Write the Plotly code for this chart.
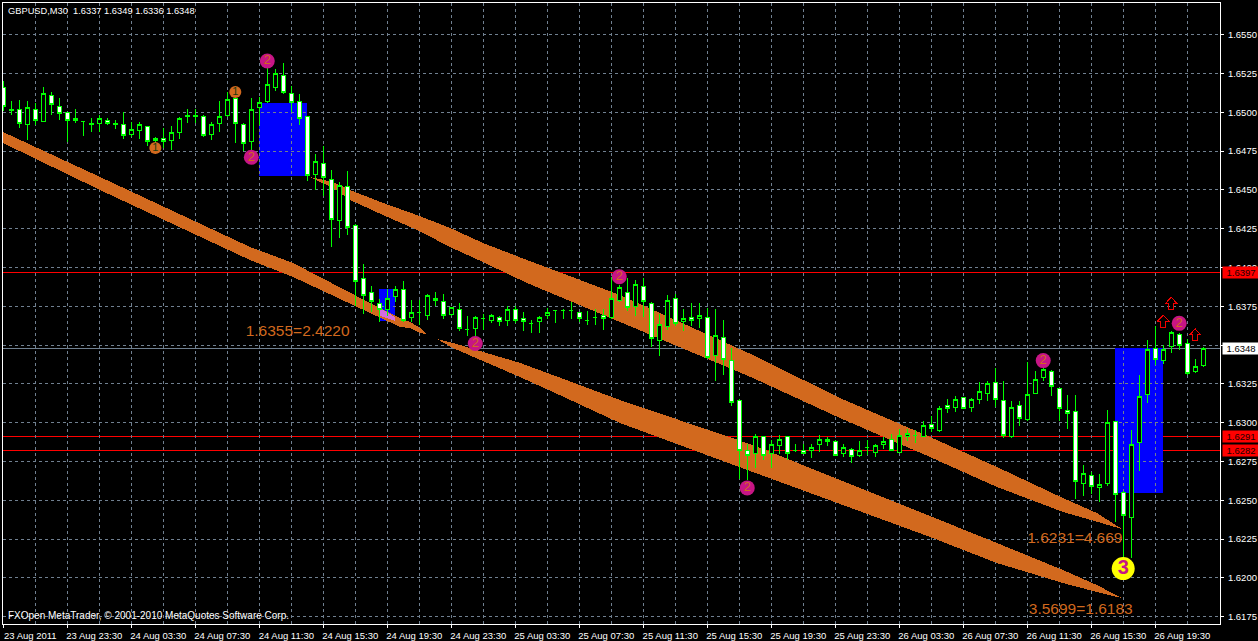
import plotly.graph_objects as go

opens = [1.6516,1.6502,1.6502,1.6492,1.6502,1.6494,1.6511,1.6504,1.6500,1.6496,1.6494,1.6493,1.6493,1.6495,1.6493,1.6492,1.6486,1.6488,1.6491,1.6483,
1.6483,1.6482,1.6487,1.6497,1.6497,1.6497,1.6486,1.6493,1.6498,1.6509,1.6492,1.6481,1.6503,1.6507,1.6516,1.6524,1.6512,1.6507,1.6497,1.6460,
1.6467,1.6457,1.6430,1.6452,1.6427,1.6393,1.6384,1.6377,1.6373,1.6381,1.6386,1.6368,1.6371,1.6369,1.6380,1.6378,1.6370,1.6373,1.6360,1.6361,
1.6367,1.6366,1.6368,1.6366,1.6373,1.6367,1.6364,1.6365,1.6369,1.6372,1.6372,1.6372,1.6371,1.6366,1.6368,1.6369,1.6368,1.6379,1.6384,1.6375,
1.6388,1.6377,1.6353,1.6362,1.6380,1.6365,1.6368,1.6367,1.6368,1.6343,1.6355,1.6340,1.6314,1.6282,1.6280,1.6291,1.6280,1.6285,1.6291,1.6282,
1.6282,1.6282,1.6286,1.6288,1.6288,1.6280,1.6283,1.6279,1.6284,1.6281,1.6286,1.6289,1.6281,1.6291,1.6292,1.6291,1.6299,1.6295,1.6311,1.6310,
1.6316,1.6310,1.6315,1.6319,1.6326,1.6314,1.6291,1.6311,1.6302,1.6319,1.6329,1.6333,1.6322,1.6308,1.6307,1.6261,1.6266,1.6258,1.6261,1.6301,
1.6255,1.6239,1.6287,1.6318,1.6348,1.6340,1.6349,1.6357,1.6351,1.6333,1.6337]
highs = [1.6520,1.6507,1.6508,1.6507,1.6506,1.6516,1.6513,1.6509,1.6500,1.6502,1.6494,1.6496,1.6498,1.6496,1.6495,1.6500,1.6494,1.6494,1.6491,1.6484,
1.6490,1.6491,1.6497,1.6502,1.6502,1.6498,1.6494,1.6507,1.6513,1.6514,1.6493,1.6509,1.6510,1.6530,1.6528,1.6532,1.6517,1.6512,1.6497,1.6473,
1.6478,1.6463,1.6455,1.6462,1.6428,1.6402,1.6388,1.6380,1.6386,1.6388,1.6391,1.6379,1.6379,1.6383,1.6384,1.6383,1.6374,1.6377,1.6369,1.6369,
1.6370,1.6370,1.6369,1.6375,1.6375,1.6371,1.6366,1.6369,1.6374,1.6372,1.6373,1.6378,1.6371,1.6372,1.6373,1.6373,1.6394,1.6389,1.6393,1.6392,
1.6393,1.6378,1.6370,1.6382,1.6383,1.6373,1.6377,1.6377,1.6374,1.6373,1.6366,1.6348,1.6315,1.6286,1.6293,1.6291,1.6289,1.6292,1.6291,1.6286,
1.6286,1.6286,1.6292,1.6291,1.6289,1.6286,1.6284,1.6288,1.6289,1.6286,1.6291,1.6293,1.6296,1.6296,1.6295,1.6301,1.6304,1.6311,1.6315,1.6317,
1.6316,1.6316,1.6326,1.6327,1.6335,1.6327,1.6314,1.6314,1.6339,1.6333,1.6340,1.6334,1.6322,1.6318,1.6318,1.6273,1.6268,1.6267,1.6308,1.6301,
1.6256,1.6295,1.6331,1.6353,1.6362,1.6350,1.6359,1.6358,1.6354,1.6341,1.6349]
lows = [1.6501,1.6498,1.6490,1.6482,1.6492,1.6494,1.6498,1.6495,1.6481,1.6493,1.6485,1.6487,1.6487,1.6492,1.6489,1.6483,1.6484,1.6483,1.6478,1.6473,
1.6477,1.6476,1.6483,1.6493,1.6493,1.6484,1.6482,1.6487,1.6497,1.6480,1.6475,1.6472,1.6492,1.6506,1.6514,1.6512,1.6500,1.6492,1.6456,1.6450,
1.6446,1.6413,1.6419,1.6421,1.6375,1.6370,1.6371,1.6365,1.6369,1.6378,1.6365,1.6365,1.6363,1.6366,1.6375,1.6367,1.6369,1.6359,1.6356,1.6356,
1.6360,1.6364,1.6362,1.6362,1.6364,1.6359,1.6358,1.6358,1.6367,1.6364,1.6367,1.6367,1.6365,1.6363,1.6363,1.6360,1.6367,1.6378,1.6372,1.6369,
1.6368,1.6349,1.6343,1.6360,1.6362,1.6359,1.6362,1.6361,1.6341,1.6327,1.6331,1.6311,1.6264,1.6263,1.6271,1.6276,1.6271,1.6280,1.6276,1.6281,
1.6280,1.6277,1.6281,1.6285,1.6279,1.6278,1.6274,1.6278,1.6279,1.6278,1.6283,1.6282,1.6281,1.6288,1.6287,1.6291,1.6294,1.6294,1.6306,1.6307,
1.6309,1.6307,1.6312,1.6314,1.6310,1.6290,1.6290,1.6298,1.6301,1.6319,1.6327,1.6317,1.6301,1.6296,1.6251,1.6253,1.6254,1.6249,1.6259,1.6236,
1.6213,1.6213,1.6269,1.6313,1.6337,1.6338,1.6345,1.6347,1.6331,1.6332,1.6336]
closes = [1.6504,1.6501,1.6493,1.6503,1.6495,1.6512,1.6505,1.6499,1.6495,1.6495,1.6494,1.6492,1.6496,1.6493,1.6492,1.6485,1.6489,1.6492,1.6481,1.6482,
1.6481,1.6487,1.6496,1.6498,1.6498,1.6485,1.6492,1.6497,1.6508,1.6493,1.6480,1.6502,1.6506,1.6518,1.6525,1.6513,1.6506,1.6496,1.6459,1.6468,
1.6458,1.6431,1.6453,1.6426,1.6391,1.6382,1.6378,1.6373,1.6380,1.6386,1.6366,1.6371,1.6371,1.6382,1.6379,1.6369,1.6374,1.6361,1.6360,1.6368,
1.6367,1.6369,1.6365,1.6373,1.6366,1.6365,1.6364,1.6368,1.6371,1.6372,1.6372,1.6372,1.6367,1.6366,1.6368,1.6367,1.6380,1.6387,1.6374,1.6389,
1.6378,1.6354,1.6363,1.6379,1.6364,1.6367,1.6366,1.6369,1.6342,1.6356,1.6341,1.6313,1.6282,1.6279,1.6291,1.6279,1.6286,1.6289,1.6280,1.6282,
1.6280,1.6284,1.6289,1.6289,1.6279,1.6284,1.6278,1.6282,1.6284,1.6285,1.6288,1.6282,1.6292,1.6293,1.6292,1.6298,1.6296,1.6309,1.6309,1.6315,
1.6309,1.6315,1.6320,1.6325,1.6315,1.6292,1.6310,1.6303,1.6318,1.6328,1.6334,1.6323,1.6309,1.6306,1.6262,1.6267,1.6259,1.6260,1.6300,1.6254,
1.6240,1.6286,1.6317,1.6347,1.6341,1.6347,1.6358,1.6350,1.6332,1.6336,1.6348]
# one entry per 30-minute bar
bar_index = list(range(len(closes)))

x_tick_bars = [0,8,16,24,32,40,48,56,64,72,80,88,96,104,112,120,128,136,144]
x_tick_labels = ["23 Aug 2011","23 Aug 23:30","24 Aug 03:30","24 Aug 07:30","24 Aug 11:30","24 Aug 15:30",
                 "24 Aug 19:30","24 Aug 23:30","25 Aug 03:30","25 Aug 07:30","25 Aug 11:30","25 Aug 15:30",
                 "25 Aug 19:30","25 Aug 23:30","26 Aug 03:30","26 Aug 07:30","26 Aug 11:30","26 Aug 15:30","26 Aug 19:30"]
x_grid_bars = [4,12,20,28,36,44,52,60,68,76,84,92,100,108,116,124,132,140,148]
y_ticks = [1.6550,1.6525,1.6500,1.6475,1.6450,1.6425,1.6400,1.6375,1.6350,1.6325,1.6300,1.6275,1.6250,1.6225,1.6200,1.6175]
# the 1.6350 label is fully covered by the bid tag in the source chart
y_tick_labels = ["1.6550","1.6525","1.6500","1.6475","1.6450","1.6425","1.6400","1.6375","","1.6325","1.6300","1.6275","1.6250","1.6225","1.6200","1.6175"]

# lower-left channel
band_a_bars = [-0.04,12.09,30.84,36.21,45.84,49.59,50.84,52.09,52.84,52.09,50.84,49.59,45.84,36.21,30.84,12.09,-0.04]
band_a_prices = [1.64873,1.64583,1.64132,1.64029,1.63771,1.63675,1.63649,1.63610,1.63572,1.63578,1.63610,1.63617,1.63707,1.63939,1.64048,1.64499,1.64802]
# lower-right channel
band_b_bars = [54.2,56.2,64.59,68.71,77.09,93.71,115.84,124.2,132.46,136.71,139.84,136.71,132.46,124.2,115.84,93.71,77.09,68.71,64.59,56.2]
band_b_prices = [1.63539,1.63514,1.63385,1.63307,1.63146,1.62856,1.62399,1.62225,1.62051,1.61954,1.61870,1.61909,1.61967,1.62096,1.62264,1.62682,1.62998,1.63198,1.63294,1.63481]
# upper channel
band_c_bars = [38.34,41.21,43.34,47.46,51.71,55.84,59.96,65.46,77.09,93.71,104.59,115.84,124.2,132.46,136.71,139.84,136.71,132.46,124.2,115.84,104.59,93.71,77.09,65.46,59.96,55.84,51.71,47.46,43.34,41.21]
band_c_prices = [1.64583,1.64551,1.64499,1.64416,1.64338,1.64255,1.64158,1.64048,1.63823,1.63436,1.63159,1.62908,1.62715,1.62515,1.62418,1.62315,1.62362,1.62425,1.62586,1.62779,1.63030,1.63288,1.63649,1.63900,1.64035,1.64132,1.64242,1.64338,1.64435,1.64512]
# overlap of the channel with the small blue box
overlap_bars = [47,49,49,47]
overlap_prices = [1.6374,1.6368,1.63655,1.6369]

blue_x0 = [32,47,139]
blue_x1 = [38,49,145]
blue_top = [1.6506,1.6386,1.6348]
blue_bottom = [1.6459,1.63655,1.6255]

red_levels = [1.6397,1.6291,1.6282]
bid_level = 1.6348

one_bars = [29,19]
one_prices = [1.6513,1.6477]
two_bars = [33,31,77,59,93,130,147]
two_prices = [1.6533,1.6471,1.6394,1.6351,1.6258,1.6340,1.6364]
three_bars = [140]
three_prices = [1.6206]
arrow_bars = [146,145,149]
arrow_prices = [1.6377,1.63655,1.63566]

note_texts = ["1.6355=2.4220","1.6231=4.669","3.5699=1.6183"]
note_bars = [30.3,128,128.2]
note_prices = [1.63585,1.6225,1.6179]

title_text = "GBPUSD,M30  1.6337 1.6349 1.6336 1.6348"
copyright_text = "FXOpen MetaTrader, © 2001-2010 MetaQuotes Software Corp."

ORANGE = "#D2691E"
GRID = "#708090"
BASE_FONT = "Liberation Sans"
# hollow up-arrow glyph, in screen pixels around its anchor
ARROW_GLYPH = "M 0,6 L 5.5,0 L 2.5,0 L 2.5,-6 L -2.5,-6 L -2.5,0 L -5.5,0 Z"


def poly(xs, ys):
    pts = [f"{a},{b}" for a, b in zip(xs, ys)]
    return "M " + " L ".join(pts) + " Z"


shapes = []
for x0, x1, t, b in zip(blue_x0, blue_x1, blue_top, blue_bottom):
    shapes.append(dict(type="rect", xref="x", yref="y", x0=x0, x1=x1, y0=b, y1=t,
                       fillcolor="#0000FF", line_width=0, layer="below"))
for xs, ys in [(band_a_bars, band_a_prices), (band_b_bars, band_b_prices), (band_c_bars, band_c_prices)]:
    shapes.append(dict(type="path", xref="x", yref="y", path=poly(xs, ys),
                       fillcolor=ORANGE, line_width=0, layer="between"))
shapes.append(dict(type="path", xref="x", yref="y", path=poly(overlap_bars, overlap_prices),
                   fillcolor="#D36CE0", line_width=0, layer="between"))
for lv in red_levels:
    shapes.append(dict(type="line", xref="paper", yref="y", x0=0, x1=1, y0=lv, y1=lv,
                       line=dict(color="#FF0000", width=1), layer="between"))
shapes.append(dict(type="line", xref="paper", yref="y", x0=0, x1=1, y0=bid_level, y1=bid_level,
                   line=dict(color=GRID, width=1), layer="between"))
for bar, price in zip(arrow_bars, arrow_prices):
    shapes.append(dict(type="path", xref="x", yref="y", xsizemode="pixel", ysizemode="pixel",
                       xanchor=bar, yanchor=price, path=ARROW_GLYPH,
                       line=dict(color="#F00000", width=1), fillcolor="rgba(0,0,0,0)", layer="above"))

fig = go.Figure()
fig.add_trace(go.Candlestick(
    x=bar_index, open=opens, high=highs, low=lows, close=closes,
    increasing=dict(line=dict(color="#00FF00", width=1), fillcolor="#000000"),
    decreasing=dict(line=dict(color="#00FF00", width=1), fillcolor="#FFFFFF"),
    whiskerwidth=0, showlegend=False, hoverinfo="skip"))
fig.add_trace(go.Scatter(x=one_bars, y=one_prices, mode="markers+text", text=["1"] * len(one_bars),
                         textposition="middle center",
                         textfont=dict(family=BASE_FONT, size=11, color="#1c3a10"),
                         marker=dict(size=12, color=ORANGE), showlegend=False, hoverinfo="skip"))
fig.add_trace(go.Scatter(x=two_bars, y=two_prices, mode="markers+text", text=["2"] * len(two_bars),
                         textposition="middle center",
                         textfont=dict(family=BASE_FONT, size=13, color=ORANGE),
                         marker=dict(size=15, color="#C71585"), showlegend=False, hoverinfo="skip"))
fig.add_trace(go.Scatter(x=three_bars, y=three_prices, mode="markers+text", text=["<b>3</b>"],
                         textposition="middle center",
                         textfont=dict(family=BASE_FONT, size=20, color="#C71585"),
                         marker=dict(size=23, color="#FFFF00"), showlegend=False, hoverinfo="skip"))
fig.add_trace(go.Scatter(x=note_bars, y=note_prices, mode="text", text=note_texts,
                         textposition="middle right",
                         textfont=dict(family=BASE_FONT, size=15.5, color=ORANGE),
                         showlegend=False, hoverinfo="skip"))

annotations = [
    dict(xref="paper", yref="paper", x=0.0022, y=0.9865, xanchor="left", yanchor="middle", text=title_text,
         showarrow=False, font=dict(family=BASE_FONT, size=9.3, color="#FFFFFF")),
    dict(xref="paper", yref="paper", x=0.0022, y=0.0135, xanchor="left", yanchor="middle", text=copyright_text,
         showarrow=False, font=dict(family=BASE_FONT, size=10, color="#FFFFFF")),
]
for lv in red_levels:
    annotations.append(dict(xref="paper", yref="y", x=1.0016, y=lv, xanchor="left", yanchor="middle",
                            text="%.4f" % lv, showarrow=False, bgcolor="#FF0000", width=36, height=11,
                            borderpad=0, font=dict(family=BASE_FONT, size=9.5, color="#200000")))
annotations.append(dict(xref="paper", yref="y", x=1.0016, y=bid_level, xanchor="left", yanchor="middle",
                        text="%.4f" % bid_level, showarrow=False, bgcolor="#FFFFFF", width=36, height=11,
                        borderpad=0, font=dict(family=BASE_FONT, size=9.5, color="#000000")))

fig.update_layout(
    width=1258, height=641,
    margin=dict(l=3, r=38, t=3, b=17, pad=0, autoexpand=False),
    paper_bgcolor="#000000", plot_bgcolor="#000000",
    font=dict(family=BASE_FONT, size=10, color="#FFFFFF"),
    showlegend=False,
    shapes=shapes, annotations=annotations,
    xaxis=dict(
        range=[-0.04, 152.1], rangeslider=dict(visible=False), fixedrange=True,
        tickmode="array", tickvals=x_tick_bars, ticktext=x_tick_labels,
        ticks="outside", ticklen=3, tickcolor="#FFFFFF", tickwidth=1,
        ticklabelshift=27, ticklabelstandoff=0,
        tickfont=dict(family=BASE_FONT, size=9.5, color="#FFFFFF"), tickangle=0,
        showgrid=True, gridcolor=GRID, griddash="3px,3px", gridwidth=1, zeroline=False,
        minor=dict(tickmode="array", tickvals=x_grid_bars, showgrid=True, gridcolor=GRID,
                   griddash="3px,3px", gridwidth=1, ticks=""),
        showline=True, linecolor="#FFFFFF", linewidth=1, mirror=True),
    yaxis=dict(
        range=[1.61703, 1.65704], side="right", fixedrange=True,
        tickmode="array", tickvals=y_ticks, ticktext=y_tick_labels,
        ticks="outside", ticklen=3, tickcolor="#FFFFFF", tickwidth=1, ticklabelstandoff=2,
        tickfont=dict(family=BASE_FONT, size=9.5, color="#FFFFFF"),
        showgrid=True, gridcolor=GRID, griddash="3px,3px", gridwidth=1, zeroline=False,
        showline=True, linecolor="#FFFFFF", linewidth=1, mirror=True),
)

fig.write_html("out.html", config=dict(displayModeBar=False),
               post_script="document.body.style.margin='0';document.body.style.background='#000';document.documentElement.style.overflow='hidden';"
                           "document.querySelectorAll('.shapelayer path, .boxes path').forEach(function(p){p.style.shapeRendering='crispEdges';});")
